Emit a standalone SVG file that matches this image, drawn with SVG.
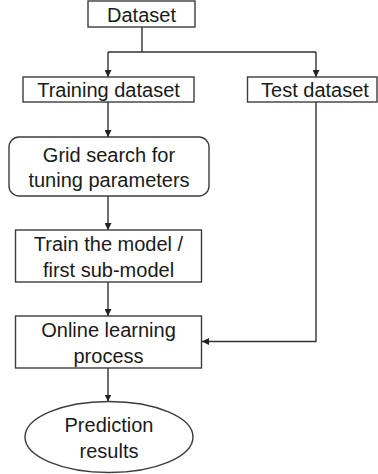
<svg xmlns="http://www.w3.org/2000/svg" width="378" height="474" viewBox="0 0 378 474">
<defs>
<style>
.box{fill:#fff;stroke:#3c3c3c;stroke-width:1.4}
.t{font-family:"Liberation Sans",Arial,sans-serif;font-size:20px;fill:#1a1a1a;text-anchor:middle}
.c{fill:none;stroke:#333;stroke-width:1.4}
</style>
<marker id="ah" viewBox="0 0 10 10" refX="10" refY="5" markerWidth="7" markerHeight="7" markerUnits="userSpaceOnUse" orient="auto">
<path d="M0,0 L10,5 L0,10 Z" fill="#222"/>
</marker>
</defs>
<rect width="378" height="474" fill="#fff"/>
<g id="connectors">
<path class="c" d="M142,27 V52 M108,52 H316"/>
<path class="c" d="M108,52 V77" marker-end="url(#ah)"/>
<path class="c" d="M316,52 V77" marker-end="url(#ah)"/>
<path class="c" d="M108,102 V137" marker-end="url(#ah)"/>
<path class="c" d="M108,196 V230" marker-end="url(#ah)"/>
<path class="c" d="M108,282 V316" marker-end="url(#ah)"/>
<path class="c" d="M316,102 V341.5 H202" marker-end="url(#ah)"/>
<path class="c" d="M108,368 V401.5" marker-end="url(#ah)"/>
</g>
<g id="dataset">
<rect class="box" x="88" y="1" width="107" height="26"/>
<text class="t" x="141.5" y="22">Dataset</text>
</g>
<g id="training">
<rect class="box" x="23" y="77" width="171" height="25"/>
<text class="t" x="108.5" y="97">Training dataset</text>
</g>
<g id="test">
<rect class="box" x="247.5" y="77" width="129.5" height="25"/>
<text class="t" x="315" y="97">Test dataset</text>
</g>
<g id="grid">
<rect class="box" x="9" y="137" width="200" height="59" rx="10" ry="10"/>
<text class="t" x="109" y="161.5">Grid search for</text>
<text class="t" x="109" y="186.5">tuning parameters</text>
</g>
<g id="train">
<rect class="box" x="15.5" y="230" width="186" height="52"/>
<text class="t" x="108.5" y="251">Train the model /</text>
<text class="t" x="108.5" y="276.5">first sub-model</text>
</g>
<g id="online">
<rect class="box" x="15.5" y="316" width="186" height="52"/>
<text class="t" x="108.5" y="336.5">Online learning</text>
<text class="t" x="108.5" y="363">process</text>
</g>
<g id="prediction">
<ellipse class="box" cx="109" cy="437" rx="84" ry="35.5"/>
<text class="t" x="109" y="431.5">Prediction</text>
<text class="t" x="109" y="457.5">results</text>
</g>
</svg>
